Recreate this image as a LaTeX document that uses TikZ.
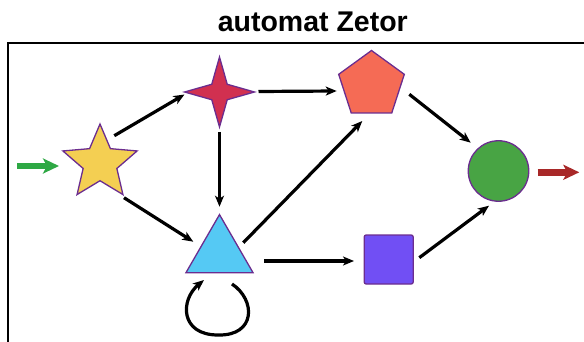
\documentclass[tikz,border=0pt]{standalone}
\usepackage{fontspec}
\setmainfont{Liberation Sans}
\usetikzlibrary{shapes.geometric,arrows.meta}
\definecolor{outl}{HTML}{6B2D8F}
\definecolor{cyel}{HTML}{F4CF52}
\definecolor{cred}{HTML}{D13050}
\definecolor{cpen}{HTML}{F56B55}
\definecolor{ctri}{HTML}{55C9F4}
\definecolor{csq}{HTML}{714FF4}
\definecolor{ccir}{HTML}{48A444}
\definecolor{cgin}{HTML}{2EA844}
\definecolor{cgout}{HTML}{A82828}
\tikzset{
  shp/.style={draw=outl, line width=1.3pt, inner sep=0pt},
  arr/.style={line width=3.2pt, -{Stealth[length=11pt,width=9pt,inset=3pt]}},
  bigarr/.style={line width=6.5pt, -{Stealth[length=16pt,width=15pt,inset=4pt]}},
}
\begin{document}
\begin{tikzpicture}[x=1pt,y=-1pt]
\useasboundingbox (0,0) rectangle (584,342);
\clip (0,0) rectangle (584,342);
\draw[line width=1.7pt] (8.3,420) -- (8.3,43.3) -- (640,43.3);
\node[anchor=base, font=\bfseries\fontsize{28.5}{32}\selectfont] (title) at (312.8,31.7) {automat Zetor};
\node[shp, star, star points=5, star point ratio=2.2, minimum size=78pt, fill=cyel] (S) at (100,163) {};
\node[shp, star, star points=4, star point ratio=3.2, minimum size=70pt, fill=cred] (R) at (219.5,92) {};
\node[shp, regular polygon, regular polygon sides=5, minimum size=69pt, fill=cpen] (P) at (371.5,85) {};
\node[shp, regular polygon, regular polygon sides=3, minimum size=77.4pt, fill=ctri] (T) at (219.5,253.3) {};
\node[shp, rectangle, rounded corners=2pt, minimum size=49pt, fill=csq] (Q) at (388.7,259.5) {};
\node[shp, circle, minimum size=60.5pt, fill=ccir] (C) at (498.5,171) {};
\coordinate (gin) at (17.3,166);
\coordinate (gout) at (579.3,172.3);
\draw[bigarr, cgin] (gin) -- ([shift={(-41,3)}]S.center);
\draw[bigarr, cgout] ([shift={(39.2,1.3)}]C.center) -- (gout);
\draw[arr] ([shift={(14.3,-27.3)}]S.center) -- ([shift={(-35,2.5)}]R.center);
\draw[arr] ([shift={(39,-0.5)}]R.center) -- ([shift={(-34.8,6)}]P.center);
\draw[arr] ([shift={(0,40)}]R.center) -- ([shift={(0,-46.6)}]T.center);
\draw[arr] ([shift={(24,34.7)}]S.center) -- ([shift={(-26.2,-11.6)}]T.center);
\draw[arr] ([shift={(23.8,-10.6)}]T.center) -- ([shift={(-9.2,36)}]P.center);
\draw[arr] ([shift={(37.8,9.3)}]P.center) -- ([shift={(-27.8,-28.3)}]C.center);
\draw[arr] ([shift={(44.8,7.7)}]T.center) -- ([shift={(-34.7,1.5)}]Q.center);
\draw[arr] ([shift={(30.6,-1.8)}]Q.center) -- ([shift={(-9.5,34.7)}]C.center);
\draw[arr] ([shift={(12.5,30.7)}]T.center) .. controls +(24,16) and +(38,1) .. ([shift={(-1.5,81.7)}]T.center) .. controls +(-38,0) and +(-24,20) .. ([shift={(-15.5,26.7)}]T.center);
\end{tikzpicture}
\end{document}
